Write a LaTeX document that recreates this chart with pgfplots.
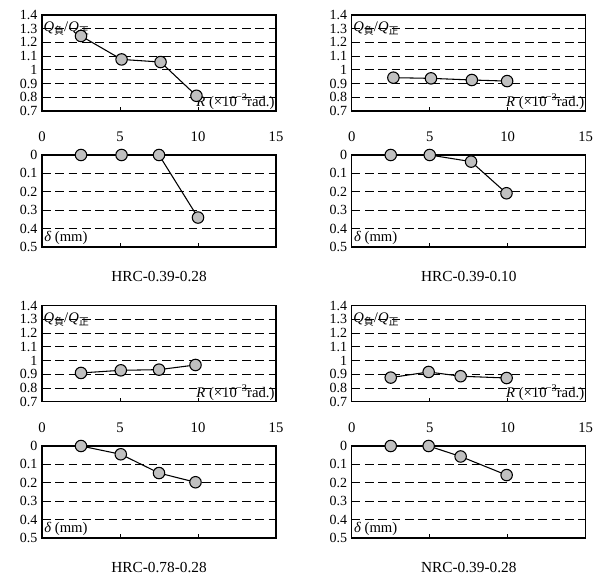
\documentclass[border=0pt]{standalone}
\usepackage{fontspec}
\setmainfont{Liberation Serif}
\newfontfamily\cjk{Noto Sans CJK JP}
\usepackage{pgfplots}
\pgfplotsset{compat=1.18}
\definecolor{mk}{HTML}{C0C0C0}
\pgfplotsset{
  pt/.style={black, line width=0.8pt, mark=*, mark size=4.3pt,
      mark options={fill=mk, draw=black, line width=0.8pt, solid}},
  base/.style={
    scale only axis, width=175.5pt, xmin=0, xmax=15, clip=false,
    axis line style={line width=0.9pt},
    ymajorgrids, grid style={black, line width=0.6pt, dash pattern=on 6.5pt off 3.5pt},
    ytick style={draw=none}, tick align=inside, major tick length=3pt,
    xtick style={black, line width=0.7pt},
    /pgf/number format/assume math mode=true,
    yticklabel style={font=\fontsize{10.5}{12}\selectfont},
  },
  topax/.style={base, height=72pt, ymin=0.7, ymax=1.4,
    ytick={0.7,0.8,0.9,1,1.1,1.2,1.3,1.4},
    yticklabels={0.7,0.8,0.9,1,1.1,1.2,1.3,1.4},
    xtick={0,5,10,15}, xtick pos=left,
    xticklabel style={font=\fontsize{11}{13}\selectfont, yshift=-12pt}},
  botax/.style={base, height=69pt, ymin=0, ymax=0.5, y dir=reverse,
    ytick={0,0.1,0.2,0.3,0.4,0.5},
    yticklabels={0,0.1,0.2,0.3,0.4,0.5},
    xtick={5,10}, xtick pos=left, xticklabels={}},
}
\newcommand{\qlab}{\node[anchor=west, inner sep=1pt, font=\fontsize{11}{13}\selectfont] at (rel axis cs:0,0.857)
  {\textit{Q}\raisebox{-2pt}{\cjk\fontsize{7.5}{8}\selectfont 負}/\textit{Q}\raisebox{-2pt}{\cjk\fontsize{7.5}{8}\selectfont 正}};
  \node[anchor=south east, inner sep=1pt, font=\fontsize{11}{13}\selectfont] at (rel axis cs:1,0)
  {\textit{R} (×10\kern-0.5pt\textsuperscript{−3}\kern-0.5pt rad.)};}
\newcommand{\dlab}[1]{\node[anchor=north west, inner sep=1.5pt, font=\fontsize{11}{13}\selectfont] at (rel axis cs:0,0.2)
  {\textit{δ} (mm)};
  \node[font=\fontsize{11.5}{13}\selectfont] at (rel axis cs:0.5,0) [yshift=-22.5pt] {#1};}
\begin{document}
\begin{tikzpicture}
\path (0,0) rectangle (449.25pt,432pt);
% ---- top-left
\begin{axis}[topax, at={(31.5pt,348.75pt)}, anchor=south west]
\addplot[pt] coordinates {(2.5,1.247) (5.1,1.076) (7.6,1.057) (9.9,0.811)};
\qlab
\end{axis}
\begin{axis}[botax, at={(31.5pt,246.75pt)}, anchor=south west]
\addplot[pt] coordinates {(2.5,0) (5.1,0) (7.5,0) (10,0.34)};
\dlab{HRC-0.39-0.28}
\end{axis}
% ---- top-right
\begin{axis}[topax, at={(263.8pt,348.75pt)}, anchor=south west]
\addplot[pt] coordinates {(2.67,0.943) (5.08,0.938) (7.7,0.926) (9.96,0.918)};
\qlab
\end{axis}
\begin{axis}[botax, at={(263.8pt,246.75pt)}, anchor=south west]
\addplot[pt] coordinates {(2.5,0) (5.0,0) (7.65,0.036) (9.92,0.208)};
\dlab{HRC-0.39-0.10}
\end{axis}
% ---- bottom-left
\begin{axis}[topax, at={(31.5pt,130.7pt)}, anchor=south west]
\addplot[pt] coordinates {(2.5,0.91) (5.05,0.929) (7.5,0.934) (9.84,0.968)};
\qlab
\end{axis}
\begin{axis}[botax, at={(31.5pt,28.5pt)}, anchor=south west]
\addplot[pt] coordinates {(2.5,0) (5.05,0.045) (7.5,0.147) (9.84,0.197)};
\dlab{HRC-0.78-0.28}
\end{axis}
% ---- bottom-right
\begin{axis}[topax, at={(263.8pt,130.7pt)}, anchor=south west]
\addplot[pt] coordinates {(2.5,0.876) (4.93,0.917) (6.98,0.886) (9.93,0.873)};
\qlab
\end{axis}
\begin{axis}[botax, at={(263.8pt,28.5pt)}, anchor=south west]
\addplot[pt] coordinates {(2.5,0) (4.93,0) (6.98,0.057) (9.93,0.158)};
\dlab{NRC-0.39-0.28}
\end{axis}
\end{tikzpicture}
\end{document}
